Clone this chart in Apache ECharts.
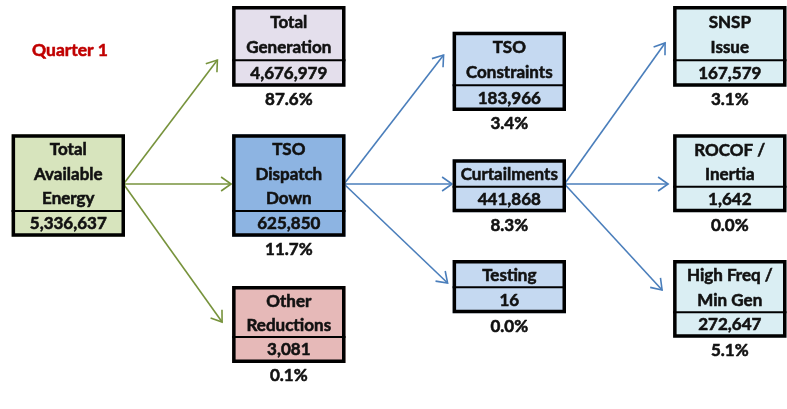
<!DOCTYPE html>
<html><head><meta charset="utf-8">
<script src="https://cdn.jsdelivr.net/npm/echarts@6/dist/echarts.min.js"></script>
<style>html,body{margin:0;padding:0;background:#fff}#c{width:787px;height:409px}</style>
</head><body><div id="c"></div>
<script>
// ---- data ----
const chartTitle = 'Quarter 1';
const nodeNames = ['Total\nAvailable\nEnergy','Total\nGeneration','TSO\nDispatch\nDown','Other\nReductions','TSO\nConstraints','Curtailments','Testing','SNSP\nIssue','ROCOF /\nInertia','High Freq /\nMin Gen'];
const nodeValues = [5336637, 4676979, 625850, 3081, 183966, 441868, 16, 167579, 1642, 272647];
const nodePercents = ['', '87.6%', '11.7%', '0.1%', '3.4%', '8.3%', '0.0%', '3.1%', '0.0%', '5.1%'];
const edgeSources = [0, 0, 0, 2, 2, 2, 5, 5, 5];
const edgeTargets = [1, 2, 3, 4, 5, 6, 7, 8, 9];

// ---- layout (column, top, divider, bottom) ----
const nodeLayout = [
  [0, 134.3, 211, 236.7],
  [1, 6, 60.3, 86.7],
  [1, 134.3, 211, 236.7],
  [1, 286, 337, 363],
  [2, 31.7, 85.3, 111],
  [2, 159.3, 186.7, 212.3],
  [2, 260, 287.3, 313.3],
  [3, 6, 60.3, 86.7],
  [3, 134.3, 186.7, 212.3],
  [3, 260, 312.3, 337.7]
];
// arrow end: gap before target's left edge, y position
const edgeEndLayout = [[14.7, 60], [1, 184], [10, 322], [9, 55], [0.5, 184], [5, 283], [8, 43], [5, 184], [11, 290]];
const edgeStartY = 184;
const nodeFill = ['#D7E4BD', '#E4DFEC', '#8DB4E2', '#E6B9B8', '#C5D9F1', '#C5D9F1', '#C5D9F1', '#DAEEF3', '#DAEEF3', '#DAEEF3'];
const BOX_W = 113.4;
const FONT = 'Lato';
const FS = 17;
const FW = 'bold';
const TXT = '#111';

function txtStyle(text, extra) {
  return Object.assign({text, fontSize: FS, fontWeight: FW, fontFamily: FONT, fill: TXT, stroke: TXT, lineWidth: 0.55, align: 'center', verticalAlign: 'middle'}, extra || {});
}

function renderNode(params, api) {
  const i = api.value(2);
  const lay = nodeLayout[i];
  const pt = api.coord([lay[0], lay[1]]);
  const pd = api.coord([lay[0], lay[2]]);
  const pb = api.coord([lay[0], lay[3]]);
  const cx = pt[0];
  const L = cx - BOX_W / 2, T = pt[1], D = pd[1], B = pb[1];
  const bw = 3.5;
  const nLines = nodeNames[i].split('\n').length;
  const nameH = D - T - bw;
  const children = [
    {type: 'rect', shape: {x: L, y: T, width: BOX_W, height: D - T}, style: {fill: nodeFill[i]}},
    {type: 'rect', shape: {x: L, y: D, width: BOX_W, height: B - D}, style: {fill: nodeFill[i]}},
    {type: 'line', shape: {x1: L, y1: D, x2: L + BOX_W, y2: D}, style: {stroke: '#000', lineWidth: 2}},
    {type: 'rect', shape: {x: L + bw / 2, y: T + bw / 2, width: BOX_W - bw, height: B - T - bw}, style: {fill: 'none', stroke: '#000', lineWidth: bw}},
    {type: 'text', x: cx, y: (T + bw + D) / 2, style: txtStyle(nodeNames[i], {lineHeight: Math.min(26, nameH / nLines)})},
    {type: 'text', x: cx, y: (D + B) / 2, style: txtStyle(nodeValues[i].toLocaleString('en-US'))}
  ];
  if (nodePercents[i]) {
    children.push({type: 'text', x: cx, y: B + 13, style: txtStyle(nodePercents[i])});
  }
  return {type: 'group', children};
}

function renderEdge(params, api) {
  const k = api.value(2);
  const s = edgeSources[k], t = edgeTargets[k];
  const ps = api.coord([nodeLayout[s][0], edgeStartY]);
  const pe = api.coord([nodeLayout[t][0], edgeEndLayout[k][1]]);
  const x1 = ps[0] + BOX_W / 2 - 1.5, y1 = ps[1];
  const x2 = pe[0] - BOX_W / 2 - edgeEndLayout[k][0], y2 = pe[1];
  const dx = x2 - x1, dy = y2 - y1, len = Math.hypot(dx, dy);
  const ux = dx / len, uy = dy / len;
  const AL = 10, AW = 7;
  const color = s === 0 ? '#77933C' : '#4A7EBB';
  return {type: 'group', children: [
    {type: 'line', shape: {x1, y1, x2, y2}, style: {stroke: color, lineWidth: 1.6}},
    {type: 'polyline', shape: {points: [[x2 - AL * ux - AW * uy, y2 - AL * uy + AW * ux], [x2, y2], [x2 - AL * ux + AW * uy, y2 - AL * uy - AW * ux]]}, style: {stroke: color, lineWidth: 1.6, fill: 'none'}}
  ]};
}

const chart = echarts.init(document.getElementById('c'), null, {renderer: 'canvas'});
chart.setOption({
  animation: false,
  backgroundColor: '#ffffff',
  title: {text: chartTitle, left: 27, top: 36, textStyle: {color: '#C00000', fontSize: 17.5, fontWeight: 'bold', fontFamily: FONT, textBorderColor: '#C00000', textBorderWidth: 0.55}},
  grid: {left: 0, right: 0, top: 0, bottom: 0},
  xAxis: {type: 'value', min: -68.3 / 220.5, max: (787 - 68.3) / 220.5, show: false},
  yAxis: {type: 'value', min: 0, max: 409, inverse: true, show: false},
  series: [
    {type: 'custom', renderItem: renderEdge, clip: false, encode: {x: 0, y: 1},
     data: edgeSources.map((s, k) => [nodeLayout[s][0], edgeStartY, k])},
    {type: 'custom', renderItem: renderNode, clip: false, encode: {x: 0, y: 1},
     data: nodeNames.map((n, i) => [nodeLayout[i][0], nodeLayout[i][1], i])}
  ]
});
</script></body></html>
